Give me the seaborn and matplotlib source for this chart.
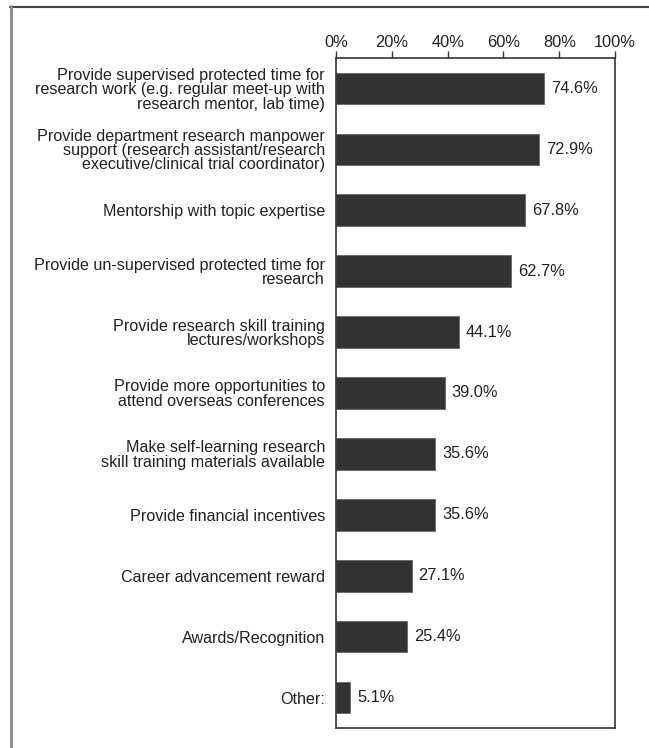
import matplotlib
matplotlib.use("Agg")
import matplotlib.pyplot as plt
import seaborn as sns
import pandas as pd

categories = [
    "Provide supervised protected time for\nresearch work (e.g. regular meet-up with\nresearch mentor, lab time)",
    "Provide department research manpower\nsupport (research assistant/research\nexecutive/clinical trial coordinator)",
    "Mentorship with topic expertise",
    "Provide un-supervised protected time for\nresearch",
    "Provide research skill training\nlectures/workshops",
    "Provide more opportunities to\nattend overseas conferences",
    "Make self-learning research\nskill training materials available",
    "Provide financial incentives",
    "Career advancement reward",
    "Awards/Recognition",
    "Other:",
]
values = [74.6, 72.9, 67.8, 62.7, 44.1, 39.0, 35.6, 35.6, 27.1, 25.4, 5.1]
tick_values = [0, 20, 40, 60, 80, 100]
tick_labels = ["0%", "20%", "40%", "60%", "80%", "100%"]

df = pd.DataFrame({"category": categories, "value": values})

sns.set_style("white")
plt.rcParams["font.family"] = ["Liberation Sans", "DejaVu Sans"]

W, H = 649, 748
fig = plt.figure(figsize=(W / 100, H / 100), dpi=100)
ax = fig.add_axes([336 / W, 1 - 728 / H, (615 - 336) / W, (728 - 58) / H])

sns.barplot(data=df, x="value", y="category", orient="h", color="#333333",
            width=0.52, saturation=1, edgecolor="#666666", linewidth=0.6, ax=ax)

ax.set_xlim(0, 100)
ax.set_ylim(len(categories) - 0.5, -0.5)
ax.set_xticks(tick_values)
ax.set_xticklabels(tick_labels, fontsize=11.8, color="#222222")
ax.xaxis.tick_top()
ax.tick_params(axis="x", direction="out", length=5, width=1, color="#333333", pad=1.0, top=True, bottom=False)
ax.tick_params(axis="y", length=0, pad=8, labelsize=11.6, labelcolor="#222222")
for lbl in ax.get_yticklabels():
    lbl.set_horizontalalignment("right")
    lbl.set_multialignment("right")
    lbl.set_linespacing(0.95)
ax.set_xlabel("")
ax.set_ylabel("")
for s in ax.spines.values():
    s.set_visible(True)
    s.set_color("#333333")
    s.set_linewidth(1.2)

for i, v in enumerate(values):
    ax.text(v + 2.5, i, f"{v:.1f}%", va="center", ha="left", fontsize=11.8, color="#222222")

# outer frame (open at right/bottom as in the reference)
fig.add_artist(plt.Line2D([10 / W, 1], [1 - 6.5 / H, 1 - 6.5 / H], transform=fig.transFigure,
                          color="#444444", linewidth=1.5))
fig.add_artist(plt.Line2D([11 / W, 11 / W], [1 - 6 / H, 0], transform=fig.transFigure,
                          color="#888888", linewidth=2))

fig.savefig("out.png", dpi=100)
